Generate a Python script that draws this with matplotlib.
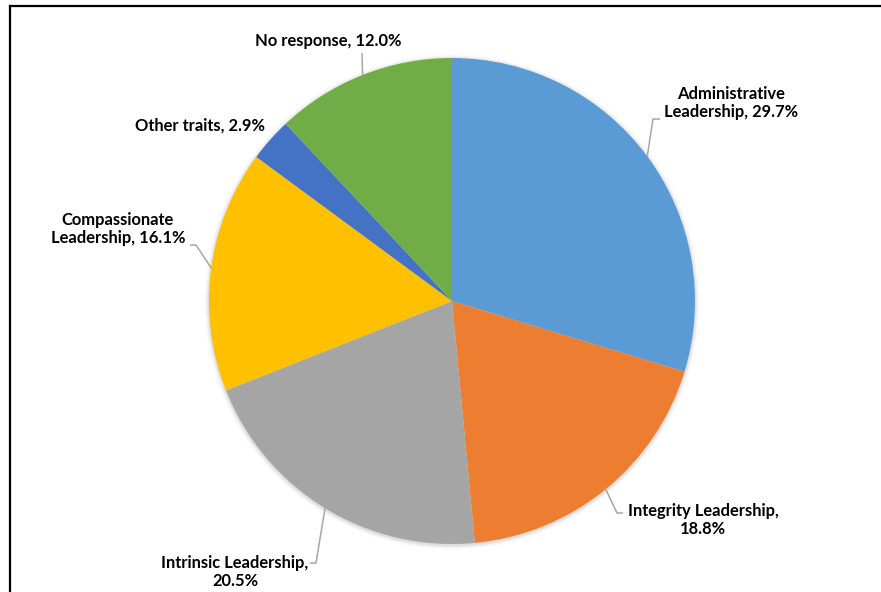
import matplotlib.pyplot as plt
from matplotlib.lines import Line2D
from matplotlib.patches import Circle
import numpy as np

# Survey breakdown of leadership traits
categories = ['Administrative\nLeadership', 'Integrity Leadership,\n', 'Intrinsic Leadership,\n',
              'Compassionate\nLeadership', 'Other traits', 'No response']
shares = [29.7, 18.8, 20.5, 16.1, 2.9, 12.0]
colors = ['#5B9BD5', '#ED7D31', '#A5A5A5', '#FFC000', '#4472C4', '#70AD47']

W, H = 881, 592
cx, cy, r = 452, 291, 243   # pie centre / radius in pixels (y measured up)

# label centre (px from top-left), leader elbow near text, and anchor angle override
label_pos = [(731, 103), (703, 520), (235, 572), (118, 229), (200, 126), (328, 41)]
elbows = [[(660, 119), (653, 119)], [(623, 513), (617, 513)], [(310, 563), (316, 563)],
          [(190, 245), (196, 245)], None, [(362, 53)]]
anchor_override = {3: 172.2}

plt.rcParams['font.family'] = ['Lato', 'DejaVu Sans']

fig = plt.figure(figsize=(W / 100, H / 100), dpi=100)
ax = fig.add_axes([0, 0, 1, 1])

# soft shadow around the pie
for k, a in zip(range(1, 6), [0.10, 0.07, 0.05, 0.03, 0.015]):
    ax.add_patch(Circle((cx, cy - 1), r + k, color='#808080', alpha=a, lw=0, zorder=0))

wedges, _ = ax.pie(shares, colors=colors, startangle=90, counterclock=False,
                   center=(cx, cy), radius=r, wedgeprops=dict(linewidth=0, zorder=1))
ax.set_xlim(0, W)
ax.set_ylim(0, H)
ax.set_aspect('auto')
ax.axis('off')

for i, w in enumerate(wedges):
    name = categories[i]
    val = f'{shares[i]:.1f}%'
    if name.endswith('\n'):
        text = name + val
    else:
        text = name + ', ' + val
    px, py = label_pos[i]
    ax.text(px, H - py, text, ha='center', va='center', multialignment='center',
            fontsize=11.9, fontweight='bold', color='black', linespacing=1.18, zorder=5)

    if elbows[i] is None:
        continue
    ang = anchor_override.get(i, 0.5 * (w.theta1 + w.theta2))
    ex = cx + r * np.cos(np.radians(ang))
    ey = cy + r * np.sin(np.radians(ang))
    xs = [p[0] for p in elbows[i]] + [ex]
    ys = [H - p[1] for p in elbows[i]] + [ey]
    ax.plot(xs, ys, color='#A6A6A6', lw=1.1, zorder=4, solid_capstyle='butt')

# chart frame (top and left edges)
fig.add_artist(Line2D([10 / W, 1], [1 - 6 / H, 1 - 6 / H], color='black', lw=1.6))
fig.add_artist(Line2D([10 / W, 10 / W], [0, 1 - 6 / H], color='black', lw=1.6))

fig.savefig('out.png', dpi=100)
